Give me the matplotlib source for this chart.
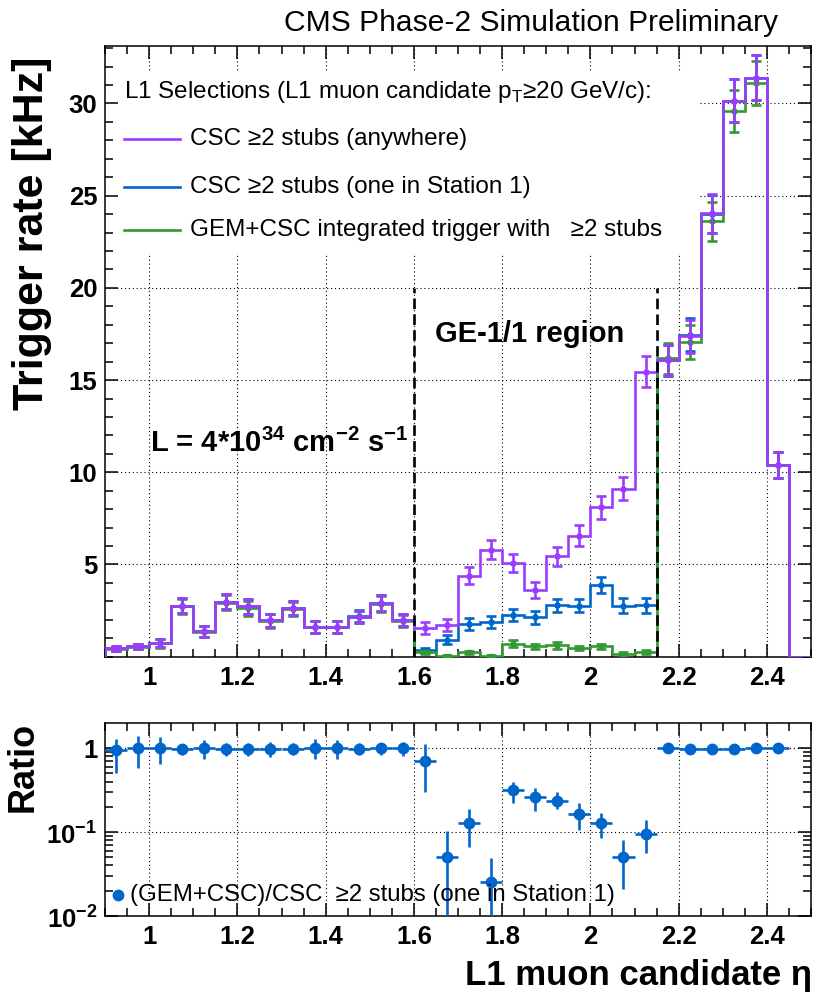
import numpy as np
import matplotlib
matplotlib.use('Agg')
import matplotlib.pyplot as plt
from matplotlib.patches import Rectangle
from matplotlib.lines import Line2D
from matplotlib.ticker import MultipleLocator, FixedLocator, FuncFormatter, LogLocator, NullFormatter

plt.rcParams['font.family'] = ['Liberation Sans', 'DejaVu Sans']
plt.rcParams['mathtext.fontset'] = 'custom'
plt.rcParams['mathtext.rm'] = 'Liberation Sans'
plt.rcParams['mathtext.bf'] = 'Liberation Sans:bold'

# eta bins (0.9 .. 2.5, width 0.05)
edges = np.linspace(0.9, 2.5, 33)
centers = 0.5 * (edges[:-1] + edges[1:])

# trigger rates [kHz]
csc_any = [0.45, 0.56, 0.74, 2.77, 1.38, 2.97, 2.73, 1.97, 2.62, 1.61, 1.61, 2.15, 2.90, 1.97,
           1.56, 1.70, 4.40, 5.80, 5.08, 3.60, 5.45, 6.56, 8.10, 9.10, 15.45,
           16.07, 17.37, 24.05, 30.15, 31.40, 10.40, 0.0]
csc_any_err = [0.13, 0.15, 0.24, 0.40, 0.30, 0.41, 0.39, 0.36, 0.38, 0.32, 0.32, 0.32, 0.43, 0.32,
               0.32, 0.32, 0.45, 0.52, 0.50, 0.43, 0.52, 0.57, 0.63, 0.62, 0.84,
               0.85, 0.90, 1.05, 1.15, 1.20, 0.70, 0.0]

csc_st1 = [0.45, 0.56, 0.74, 2.77, 1.38, 2.97, 2.73, 1.97, 2.62, 1.61, 1.61, 2.22, 2.90, 1.97,
           0.34, 0.92, 1.78, 1.90, 2.24, 2.15, 2.78, 2.77, 3.90, 2.77, 2.78,
           16.07, 17.45, 24.00, 30.15, 31.40, 10.40, 0.0]
csc_st1_err = [0.13, 0.15, 0.24, 0.40, 0.30, 0.41, 0.39, 0.36, 0.38, 0.32, 0.32, 0.32, 0.43, 0.32,
               0.14, 0.25, 0.32, 0.33, 0.32, 0.35, 0.36, 0.36, 0.44, 0.39, 0.39,
               0.85, 0.90, 1.05, 1.15, 1.20, 0.70, 0.0]

gem_csc = [0.42, 0.55, 0.72, 2.74, 1.36, 2.93, 2.62, 1.94, 2.58, 1.59, 1.60, 2.15, 2.88, 1.95,
           0.23, 0.05, 0.23, 0.05, 0.70, 0.56, 0.61, 0.47, 0.56, 0.15, 0.25,
           16.18, 17.06, 23.60, 29.60, 31.10, 10.40, 0.0]
gem_csc_err = [0.13, 0.15, 0.24, 0.40, 0.30, 0.41, 0.39, 0.36, 0.38, 0.32, 0.32, 0.32, 0.43, 0.32,
               0.10, 0.05, 0.08, 0.05, 0.20, 0.15, 0.17, 0.13, 0.15, 0.08, 0.10,
               0.85, 0.90, 1.05, 1.15, 1.20, 0.70, 0.0]

# ratio (GEM+CSC)/CSC one in station 1, bins 0.9 .. 2.45
ratio = [0.94, 1.0, 1.0, 0.98, 1.0, 0.98, 0.98, 0.98, 0.98, 1.0, 1.0, 0.98, 1.0, 1.0,
         0.71, 0.051, 0.129, 0.0255, 0.314, 0.262, 0.237, 0.166, 0.129, 0.051, 0.096,
         1.0, 0.98, 0.98, 0.98, 1.0, 1.0]
ratio_hi = [1.29, 1.40, 1.35, 1.09, 1.25, 1.15, 1.15, 1.20, 1.14, 1.28, 1.26, 1.15, 1.16, 1.19,
            1.13, 0.102, 0.19, 0.049, 0.40, 0.335, 0.30, 0.22, 0.17, 0.08, 0.138,
            1.04, 1.02, 1.02, 1.02, 1.04, 1.04]
ratio_lo = [0.51, 0.58, 0.65, 0.83, 0.74, 0.81, 0.81, 0.78, 0.82, 0.74, 0.75, 0.82, 0.83, 0.80,
            0.30, 0.004, 0.067, 0.004, 0.22, 0.177, 0.19, 0.105, 0.086, 0.021, 0.056,
            0.96, 0.94, 0.94, 0.94, 0.96, 0.96]

ge11_lo, ge11_hi = 1.6, 2.15
xticks_major = [1.0, 1.2, 1.4, 1.6, 1.8, 2.0, 2.2, 2.4]
yticks_top = [5, 10, 15, 20, 25, 30]

PURPLE = '#9b3cff'
BLUE = '#0066cc'
GREEN = '#339933'
LW = 1.9

W, H = 817, 1000
fig = plt.figure(figsize=(W / 100, H / 100), dpi=100)
ax = fig.add_axes([105 / W, 1 - 656.7 / H, 706 / W, 611 / H])
rx = fig.add_axes([105 / W, 1 - 916 / H, 706 / W, 192.7 / H], sharex=ax)

grid_kw = dict(color='k', lw=0.8, ls=(0, (1, 2.5)), zorder=0.3)

# ---------- top panel ----------
for xv in xticks_major:
    ax.axvline(xv, **grid_kw)
for yv in yticks_top:
    ax.axhline(yv, **grid_kw)

# white legend box hiding the grid
ax.add_patch(Rectangle((0, 0.661), 0.84, 0.294, transform=ax.transAxes,
                       facecolor='white', edgecolor='none', zorder=0.4))

series = [(csc_st1, csc_st1_err, BLUE), (gem_csc, gem_csc_err, GREEN), (csc_any, csc_any_err, PURPLE)]
for k, (vals, errs, col) in enumerate(series):
    vals = np.array(vals)
    errs = np.array(errs)
    ax.stairs(vals, edges, color=col, lw=LW, zorder=2 + k)
    m = vals > 0
    ax.errorbar(centers[m], vals[m], yerr=errs[m], fmt='s', ms=3.5, color=col,
                ecolor=col, elinewidth=LW, capsize=3.5, capthick=LW, zorder=2 + k)

for xv in (ge11_lo, ge11_hi):
    ax.plot([xv, xv], [0, 20], color='k', lw=1.9, ls=(0, (4, 2)), zorder=6)

ax.set_xlim(0.9, 2.5)
ax.set_ylim(0, 33.13)

ax.text(1.648, 17.07, 'GE-1/1 region', fontsize=21, fontweight='bold', va='baseline', zorder=7)
ax.text(1.002, 11.1, r'L = 4*10$^{\mathregular{34}}$ cm$^{\mathregular{-2}}$ s$^{\mathregular{-1}}$',
        fontsize=21, fontweight='bold', va='baseline', zorder=7)

# legend
ax.text(0.027, 0.924, r'L1 Selections (L1 muon candidate p$_{\mathregular{T}}$≥20 GeV/c):',
        transform=ax.transAxes, fontsize=17.5, va='center', zorder=7)
labels = ['CSC ≥2 stubs (anywhere)', 'CSC ≥2 stubs (one in Station 1)',
          'GEM+CSC integrated trigger with   ≥2 stubs']
for lab, col, yy in zip(labels, [PURPLE, BLUE, GREEN], [0.848, 0.768, 0.698]):
    ax.add_line(Line2D([0.027, 0.106], [yy, yy], transform=ax.transAxes, color=col, lw=LW, zorder=7))
    ax.text(0.12, yy, lab, transform=ax.transAxes, fontsize=17.5, va='center', zorder=7)

# ---------- ratio panel ----------
for xv in xticks_major:
    rx.axvline(xv, **grid_kw)
for yv in (0.1, 1.0):
    rx.axhline(yv, **grid_kw)

r = np.array(ratio)
rx_c = centers[:len(r)]
yerr = [r - np.array(ratio_lo), np.array(ratio_hi) - r]
rx.errorbar(rx_c, r, xerr=0.025, yerr=yerr, fmt='o', ms=7.5, color=BLUE, ecolor=BLUE,
            elinewidth=LW, capsize=0, zorder=3)
rx.set_yscale('log')
rx.set_ylim(0.01, 1.98)

rx.add_line(Line2D([0.018], [0.109], transform=rx.transAxes, marker='o', ms=7.5,
                   color=BLUE, ls='none', zorder=7))
rx.text(0.035, 0.109, '(GEM+CSC)/CSC  ≥2 stubs (one in Station 1)', transform=rx.transAxes,
        fontsize=17.3, va='center', zorder=7)
rx.set_xlim(0.9, 2.5)

# ---------- ticks ----------
for a in (ax, rx):
    a.tick_params(which='both', direction='in', top=True, right=True, width=1.1)
    a.tick_params(which='major', length=9.5)
    a.tick_params(which='minor', length=5.8)
    a.tick_params(axis='x', pad=6.5)
    a.tick_params(axis='y', pad=5.5)
    a.xaxis.set_major_locator(FixedLocator(xticks_major))
    a.xaxis.set_minor_locator(MultipleLocator(0.05))
    a.xaxis.set_major_formatter(FuncFormatter(lambda v, p: '%g' % v))
    for s in a.spines.values():
        s.set_linewidth(1.1)

ax.yaxis.set_major_locator(FixedLocator(yticks_top))
ax.yaxis.set_minor_locator(MultipleLocator(1))
ax.tick_params(axis='x', labelbottom=True)

rx.yaxis.set_major_locator(FixedLocator([0.01, 0.1, 1.0]))
rx.yaxis.set_minor_locator(LogLocator(base=10, subs=np.arange(2, 10)))
rx.yaxis.set_minor_formatter(NullFormatter())
rx.yaxis.set_major_formatter(FuncFormatter(
    lambda v, p: '1' if abs(v - 1) < 1e-9 else r'10$^{\mathregular{%d}}$' % round(np.log10(v))))

for a in (ax, rx):
    for lab in a.get_xticklabels() + a.get_yticklabels():
        lab.set_fontsize(18.5)
        lab.set_fontweight('bold')

# ---------- labels ----------
fig.text(0.952, 1 - 31 / H, 'CMS Phase-2 Simulation Preliminary', fontsize=21.6,
         ha='right', va='baseline')
fig.text(32 / W, 1 - 57 / H, 'Trigger rate [kHz]', rotation=90, fontsize=31,
         fontweight='bold', ha='center', va='top')
fig.text(23 / W, 1 - 722 / H, 'Ratio', rotation=90, fontsize=26,
         fontweight='bold', ha='center', va='top')
fig.text(812 / W, 1 - 985 / H, 'L1 muon candidate η', fontsize=25,
         fontweight='bold', ha='right', va='baseline')

fig.savefig('out.png', dpi=100)
